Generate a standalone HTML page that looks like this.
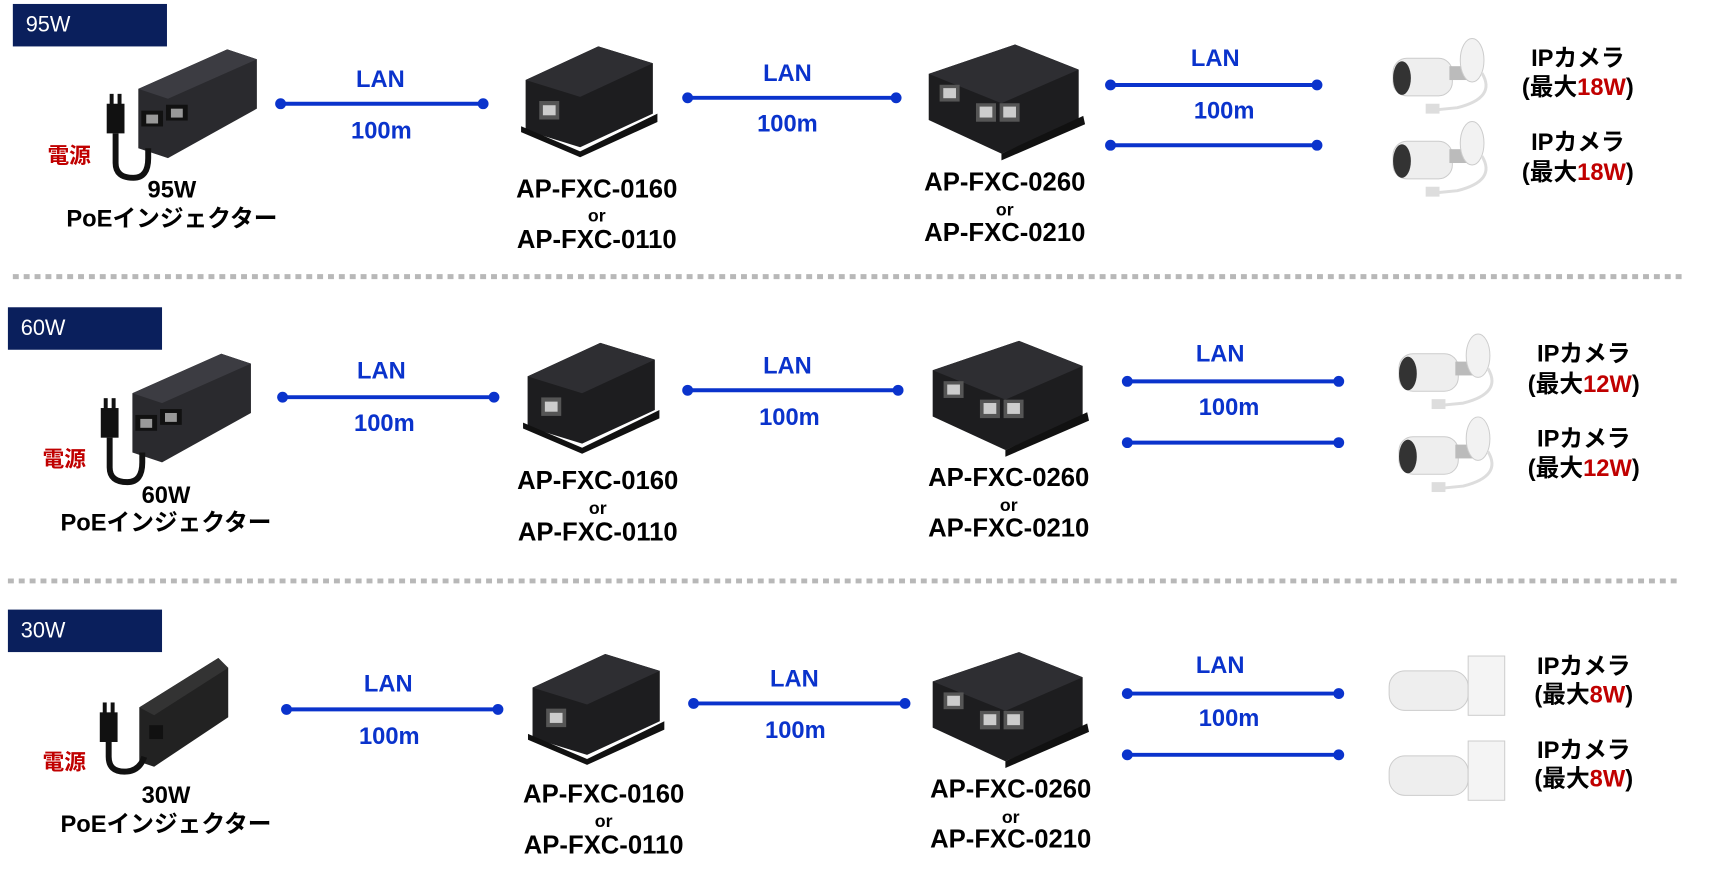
<!DOCTYPE html>
<html><head><meta charset="utf-8"><style>
html,body{margin:0;padding:0;background:#fff;width:1736px;height:878px;overflow:hidden}
svg{display:block}
text{font-family:"Liberation Sans","Noto Sans CJK JP",sans-serif;font-weight:bold;text-anchor:middle}
.b{fill:#0a33cc;font-size:24px}
.k{fill:#000;font-size:24px}
.m{fill:#000;font-size:26px}
.o{fill:#000;font-size:18px}
.r{fill:#c00000;font-size:22px}
.h{fill:#fff;font-size:22px;font-weight:normal;text-anchor:start}
.ln{stroke:#0a33cc;stroke-width:4}
.dt{fill:#0a33cc}
.dash{stroke:#b8b8b8;stroke-width:5;stroke-dasharray:6 5}
</style></head><body>
<svg width="1736" height="878" viewBox="0 0 1736 878" xmlns="http://www.w3.org/2000/svg">
<defs>
<g id="inj">
  <polygon points="30,40 120,0 150,10 150,60 60,110 30,100" fill="#2a2a2e"/>
  <polygon points="30,40 120,0 150,10 60,50" fill="#3c3c42"/>
  <rect x="33" y="62" width="22" height="16" fill="#111"/><rect x="38" y="66" width="12" height="9" fill="#999"/>
  <rect x="58" y="56" width="22" height="16" fill="#111"/><rect x="63" y="60" width="12" height="9" fill="#999"/>
  <rect x="-2" y="55" width="18" height="30" fill="#111"/><rect x="1" y="45" width="4" height="12" fill="#111"/><rect x="9" y="45" width="4" height="12" fill="#111"/>
  <path d="M7 85 V115 Q7 130 25 130 Q40 130 40 110 V100" stroke="#111" stroke-width="6" fill="none"/>
</g>
<g id="ext">
  <g transform="scale(0.92,0.85)">
  <polygon points="0,40 80,0 140,20 140,80 60,120 0,100" fill="#1d1d1f"/>
  <polygon points="0,40 80,0 140,20 60,60" fill="#2e2e32"/>
  <polygon points="-5,95 60,125 145,80 145,90 60,132 -5,102" fill="#111"/>
  <rect x="15" y="65" width="22" height="22" fill="#555"/><rect x="19" y="70" width="14" height="12" fill="#ccc"/>
  </g>
</g>
<g id="sw">
  <g transform="scale(0.92,0.85)">
  <polygon points="0,35 95,0 165,30 165,90 80,130 0,90" fill="#1d1d1f"/>
  <polygon points="0,35 95,0 165,30 80,70" fill="#2e2e32"/>
  <polygon points="80,130 170,85 172,95 80,138" fill="#111"/>
  <rect x="12" y="48" width="22" height="20" fill="#555"/><rect x="16" y="52" width="14" height="12" fill="#ccc"/>
  <rect x="52" y="70" width="22" height="22" fill="#555"/><rect x="56" y="74" width="14" height="13" fill="#ccc"/>
  <rect x="78" y="70" width="22" height="22" fill="#555"/><rect x="82" y="74" width="14" height="13" fill="#ccc"/>
  </g>
</g>
<g id="cam">
  <rect x="5" y="20" width="60" height="38" rx="14" fill="#eee" stroke="#ccc"/>
  <ellipse cx="14" cy="40" rx="9" ry="17" fill="#333"/>
  <rect x="62" y="28" width="18" height="14" fill="#bbb"/>
  <ellipse cx="85" cy="22" rx="12" ry="22" fill="#f2f2f2" stroke="#ccc"/>
  <path d="M95 35 Q110 60 70 70 L50 72" stroke="#ddd" stroke-width="3" fill="none"/>
  <rect x="38" y="66" width="14" height="10" fill="#ddd"/>
</g>
</defs>
<g transform="scale(0.988)">
<!-- Row 1 -->
<rect x="13" y="4" width="156" height="43" fill="#0a1f5c"/>
<text class="h" x="26" y="32">95W</text>
<use href="#inj" x="110" y="50"/>
<text class="r" x="70" y="165">電源</text>
<text class="k" x="174" y="200">95W</text>
<text class="k" x="174" y="229">PoEインジェクター</text>
<line class="ln" x1="284" y1="105" x2="489" y2="105"/><circle class="dt" cx="284" cy="105" r="5.5"/><circle class="dt" cx="489" cy="105" r="5.5"/>
<text class="b" x="385" y="88">LAN</text><text class="b" x="386" y="140">100m</text>
<use href="#ext" x="532" y="47"/>
<text class="m" x="604" y="200">AP-FXC-0160</text><text class="o" x="604" y="224">or</text><text class="m" x="604" y="251">AP-FXC-0110</text>
<line class="ln" x1="696" y1="99" x2="907" y2="99"/><circle class="dt" cx="696" cy="99" r="5.5"/><circle class="dt" cx="907" cy="99" r="5.5"/>
<text class="b" x="797" y="82">LAN</text><text class="b" x="797" y="133">100m</text>
<use href="#sw" x="940" y="45"/>
<text class="m" x="1017" y="193">AP-FXC-0260</text><text class="o" x="1017" y="218">or</text><text class="m" x="1017" y="244">AP-FXC-0210</text>
<line class="ln" x1="1124" y1="86" x2="1333" y2="86"/><circle class="dt" cx="1124" cy="86" r="5.5"/><circle class="dt" cx="1333" cy="86" r="5.5"/>
<line class="ln" x1="1124" y1="147" x2="1333" y2="147"/><circle class="dt" cx="1124" cy="147" r="5.5"/><circle class="dt" cx="1333" cy="147" r="5.5"/>
<text class="b" x="1230" y="67">LAN</text><text class="b" x="1239" y="120">100m</text>
<use href="#cam" x="1405" y="39"/><use href="#cam" x="1405" y="123"/>
<text class="k" x="1597" y="67">IPカメラ</text><text class="k" x="1597" y="96">(最大<tspan fill="#c00000">18W</tspan>)</text>
<text class="k" x="1597" y="152">IPカメラ</text><text class="k" x="1597" y="182">(最大<tspan fill="#c00000">18W</tspan>)</text>
<line class="dash" x1="13" y1="280" x2="1705" y2="280"/>

<!-- Row 2 -->
<rect x="8" y="311" width="156" height="43" fill="#0a1f5c"/>
<text class="h" x="21" y="339">60W</text>
<use href="#inj" x="104" y="358"/>
<text class="r" x="65" y="472">電源</text>
<text class="k" x="168" y="509">60W</text>
<text class="k" x="168" y="537">PoEインジェクター</text>
<line class="ln" x1="286" y1="402" x2="500" y2="402"/><circle class="dt" cx="286" cy="402" r="5.5"/><circle class="dt" cx="500" cy="402" r="5.5"/>
<text class="b" x="386" y="383">LAN</text><text class="b" x="389" y="436">100m</text>
<use href="#ext" x="534" y="347"/>
<text class="m" x="605" y="495">AP-FXC-0160</text><text class="o" x="605" y="520">or</text><text class="m" x="605" y="547">AP-FXC-0110</text>
<line class="ln" x1="696" y1="395" x2="909" y2="395"/><circle class="dt" cx="696" cy="395" r="5.5"/><circle class="dt" cx="909" cy="395" r="5.5"/>
<text class="b" x="797" y="378">LAN</text><text class="b" x="799" y="430">100m</text>
<use href="#sw" x="944" y="345"/>
<text class="m" x="1021" y="492">AP-FXC-0260</text><text class="o" x="1021" y="517">or</text><text class="m" x="1021" y="543">AP-FXC-0210</text>
<line class="ln" x1="1141" y1="386" x2="1355" y2="386"/><circle class="dt" cx="1141" cy="386" r="5.5"/><circle class="dt" cx="1355" cy="386" r="5.5"/>
<line class="ln" x1="1141" y1="448" x2="1355" y2="448"/><circle class="dt" cx="1141" cy="448" r="5.5"/><circle class="dt" cx="1355" cy="448" r="5.5"/>
<text class="b" x="1235" y="366">LAN</text><text class="b" x="1244" y="420">100m</text>
<use href="#cam" x="1411" y="338"/><use href="#cam" x="1411" y="422"/>
<text class="k" x="1603" y="366">IPカメラ</text><text class="k" x="1603" y="397">(最大<tspan fill="#c00000">12W</tspan>)</text>
<text class="k" x="1603" y="452">IPカメラ</text><text class="k" x="1603" y="482">(最大<tspan fill="#c00000">12W</tspan>)</text>
<line class="dash" x1="8" y1="588" x2="1700" y2="588"/>

<!-- Row 3 -->
<rect x="8" y="617" width="156" height="43" fill="#0a1f5c"/>
<text class="h" x="21" y="645">30W</text>
<g transform="translate(101,666)">
  <polygon points="40,50 120,0 130,10 130,60 55,110 40,105" fill="#222"/>
  <polygon points="40,50 120,0 130,10 55,58" fill="#333"/>
  <rect x="50" y="68" width="14" height="14" fill="#111"/>
  <rect x="0" y="55" width="18" height="30" fill="#111"/><rect x="3" y="45" width="4" height="12" fill="#111"/><rect x="11" y="45" width="4" height="12" fill="#111"/>
  <path d="M9 85 V100 Q9 115 25 115 Q40 115 45 100" stroke="#111" stroke-width="6" fill="none"/>
</g>
<text class="r" x="65" y="779">電源</text>
<text class="k" x="168" y="813">30W</text>
<text class="k" x="168" y="842">PoEインジェクター</text>
<line class="ln" x1="290" y1="718" x2="504" y2="718"/><circle class="dt" cx="290" cy="718" r="5.5"/><circle class="dt" cx="504" cy="718" r="5.5"/>
<text class="b" x="393" y="700">LAN</text><text class="b" x="394" y="753">100m</text>
<use href="#ext" x="539" y="662"/>
<text class="m" x="611" y="812">AP-FXC-0160</text><text class="o" x="611" y="837">or</text><text class="m" x="611" y="864">AP-FXC-0110</text>
<line class="ln" x1="702" y1="712" x2="916" y2="712"/><circle class="dt" cx="702" cy="712" r="5.5"/><circle class="dt" cx="916" cy="712" r="5.5"/>
<text class="b" x="804" y="695">LAN</text><text class="b" x="805" y="747">100m</text>
<use href="#sw" x="944" y="660"/>
<text class="m" x="1023" y="807">AP-FXC-0260</text><text class="o" x="1023" y="833">or</text><text class="m" x="1023" y="858">AP-FXC-0210</text>
<line class="ln" x1="1141" y1="702" x2="1355" y2="702"/><circle class="dt" cx="1141" cy="702" r="5.5"/><circle class="dt" cx="1355" cy="702" r="5.5"/>
<line class="ln" x1="1141" y1="764" x2="1355" y2="764"/><circle class="dt" cx="1141" cy="764" r="5.5"/><circle class="dt" cx="1355" cy="764" r="5.5"/>
<text class="b" x="1235" y="681">LAN</text><text class="b" x="1244" y="735">100m</text>
<g transform="translate(1406,659)">
  <rect x="0" y="20" width="80" height="40" rx="16" fill="#eee" stroke="#ccc"/><rect x="80" y="5" width="37" height="60" fill="#f4f4f4" stroke="#ccc"/>
</g>
<g transform="translate(1406,745)">
  <rect x="0" y="20" width="80" height="40" rx="16" fill="#eee" stroke="#ccc"/><rect x="80" y="5" width="37" height="60" fill="#f4f4f4" stroke="#ccc"/>
</g>
<text class="k" x="1603" y="682">IPカメラ</text><text class="k" x="1603" y="711">(最大<tspan fill="#c00000">8W</tspan>)</text>
<text class="k" x="1603" y="767">IPカメラ</text><text class="k" x="1603" y="796">(最大<tspan fill="#c00000">8W</tspan>)</text>
</g>
</svg>
</body></html>
